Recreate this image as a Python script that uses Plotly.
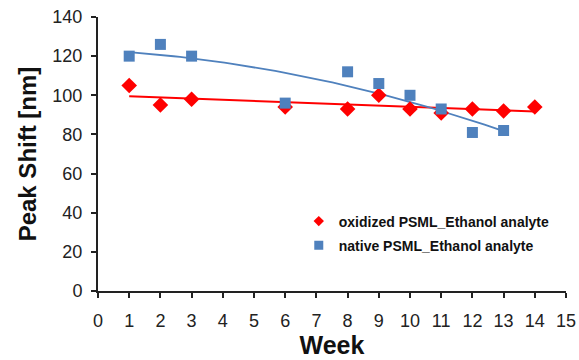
import numpy as np
import plotly.graph_objects as go

weeks_ox = [1, 2, 3, 6, 8, 9, 10, 11, 12, 13, 14]
shift_ox = [105, 95, 98, 94, 93, 100, 93, 91, 93, 92, 94]
weeks_nat = [1, 2, 3, 6, 8, 9, 10, 11, 12, 13]
shift_nat = [120, 126, 120, 96, 112, 106, 100, 93, 81, 82]

x_ticks = list(range(0, 16))
y_ticks = list(range(0, 141, 20))

name_ox = "oxidized PSML_Ethanol analyte"
name_nat = "native PSML_Ethanol analyte"

# Trend lines: linear for oxidized, 2nd-order polynomial for native
p_ox = np.polyfit(weeks_ox, shift_ox, 1)
p_nat = np.polyfit(weeks_nat, shift_nat, 2)
xo = np.linspace(min(weeks_ox), max(weeks_ox), 60)
xn = np.linspace(min(weeks_nat), max(weeks_nat), 60)

RED = "#ff0000"
BLUE = "#4f81bd"
FONT = "Liberation Sans, Arial"

fig = go.Figure()
fig.add_trace(go.Scatter(x=xo, y=np.polyval(p_ox, xo), mode="lines",
                         line=dict(color=RED, width=2), showlegend=False, hoverinfo="skip"))
fig.add_trace(go.Scatter(x=xn, y=np.polyval(p_nat, xn), mode="lines",
                         line=dict(color=BLUE, width=1.8), showlegend=False, hoverinfo="skip"))
fig.add_trace(go.Scatter(x=weeks_ox, y=shift_ox, mode="markers", name=name_ox,
                         marker=dict(symbol="diamond", size=12, color=RED), showlegend=False))
fig.add_trace(go.Scatter(x=weeks_nat, y=shift_nat, mode="markers", name=name_nat,
                         marker=dict(symbol="square", size=11, color=BLUE), showlegend=False))
# legend entries (smaller legend symbols as in the reference)
fig.add_trace(go.Scatter(x=[None], y=[None], mode="markers", name=name_ox, legendgroup="a",
                         marker=dict(symbol="diamond", size=8, color=RED)))
fig.add_trace(go.Scatter(x=[None], y=[None], mode="markers", name=name_nat, legendgroup="b",
                         marker=dict(symbol="square", size=9, color=BLUE)))

axis_common = dict(showgrid=False, zeroline=False, showline=True, linecolor="#222",
                   linewidth=2, ticks="outside", ticklen=5, tickwidth=2, tickcolor="#222",
                   automargin=False,
                   tickfont=dict(family=FONT, size=18, color="#222"))

fig.update_layout(
    width=579, height=360,
    margin=dict(l=98, r=13, t=17, b=69),
    plot_bgcolor="white", paper_bgcolor="white",
    xaxis=dict(range=[0, 15], tickvals=x_ticks, ticklabelstandoff=7, **axis_common,
               title=dict(text="<b>Week</b>", font=dict(family=FONT, size=25, color="#111"),
                          standoff=3)),
    yaxis=dict(range=[0, 140], tickvals=y_ticks, ticklabelstandoff=5, **axis_common,
               title=dict(text="<b>Peak Shift [nm]</b>", font=dict(family=FONT, size=24, color="#111"),
                          standoff=9)),
    legend=dict(x=0.429, y=0.312, xanchor="left", yanchor="top", bgcolor="rgba(0,0,0,0)",
                font=dict(family=FONT, size=14, color="#111", weight="bold"),
                itemwidth=30, traceorder="grouped", tracegroupgap=3),
)

fig.write_html("out.html")
